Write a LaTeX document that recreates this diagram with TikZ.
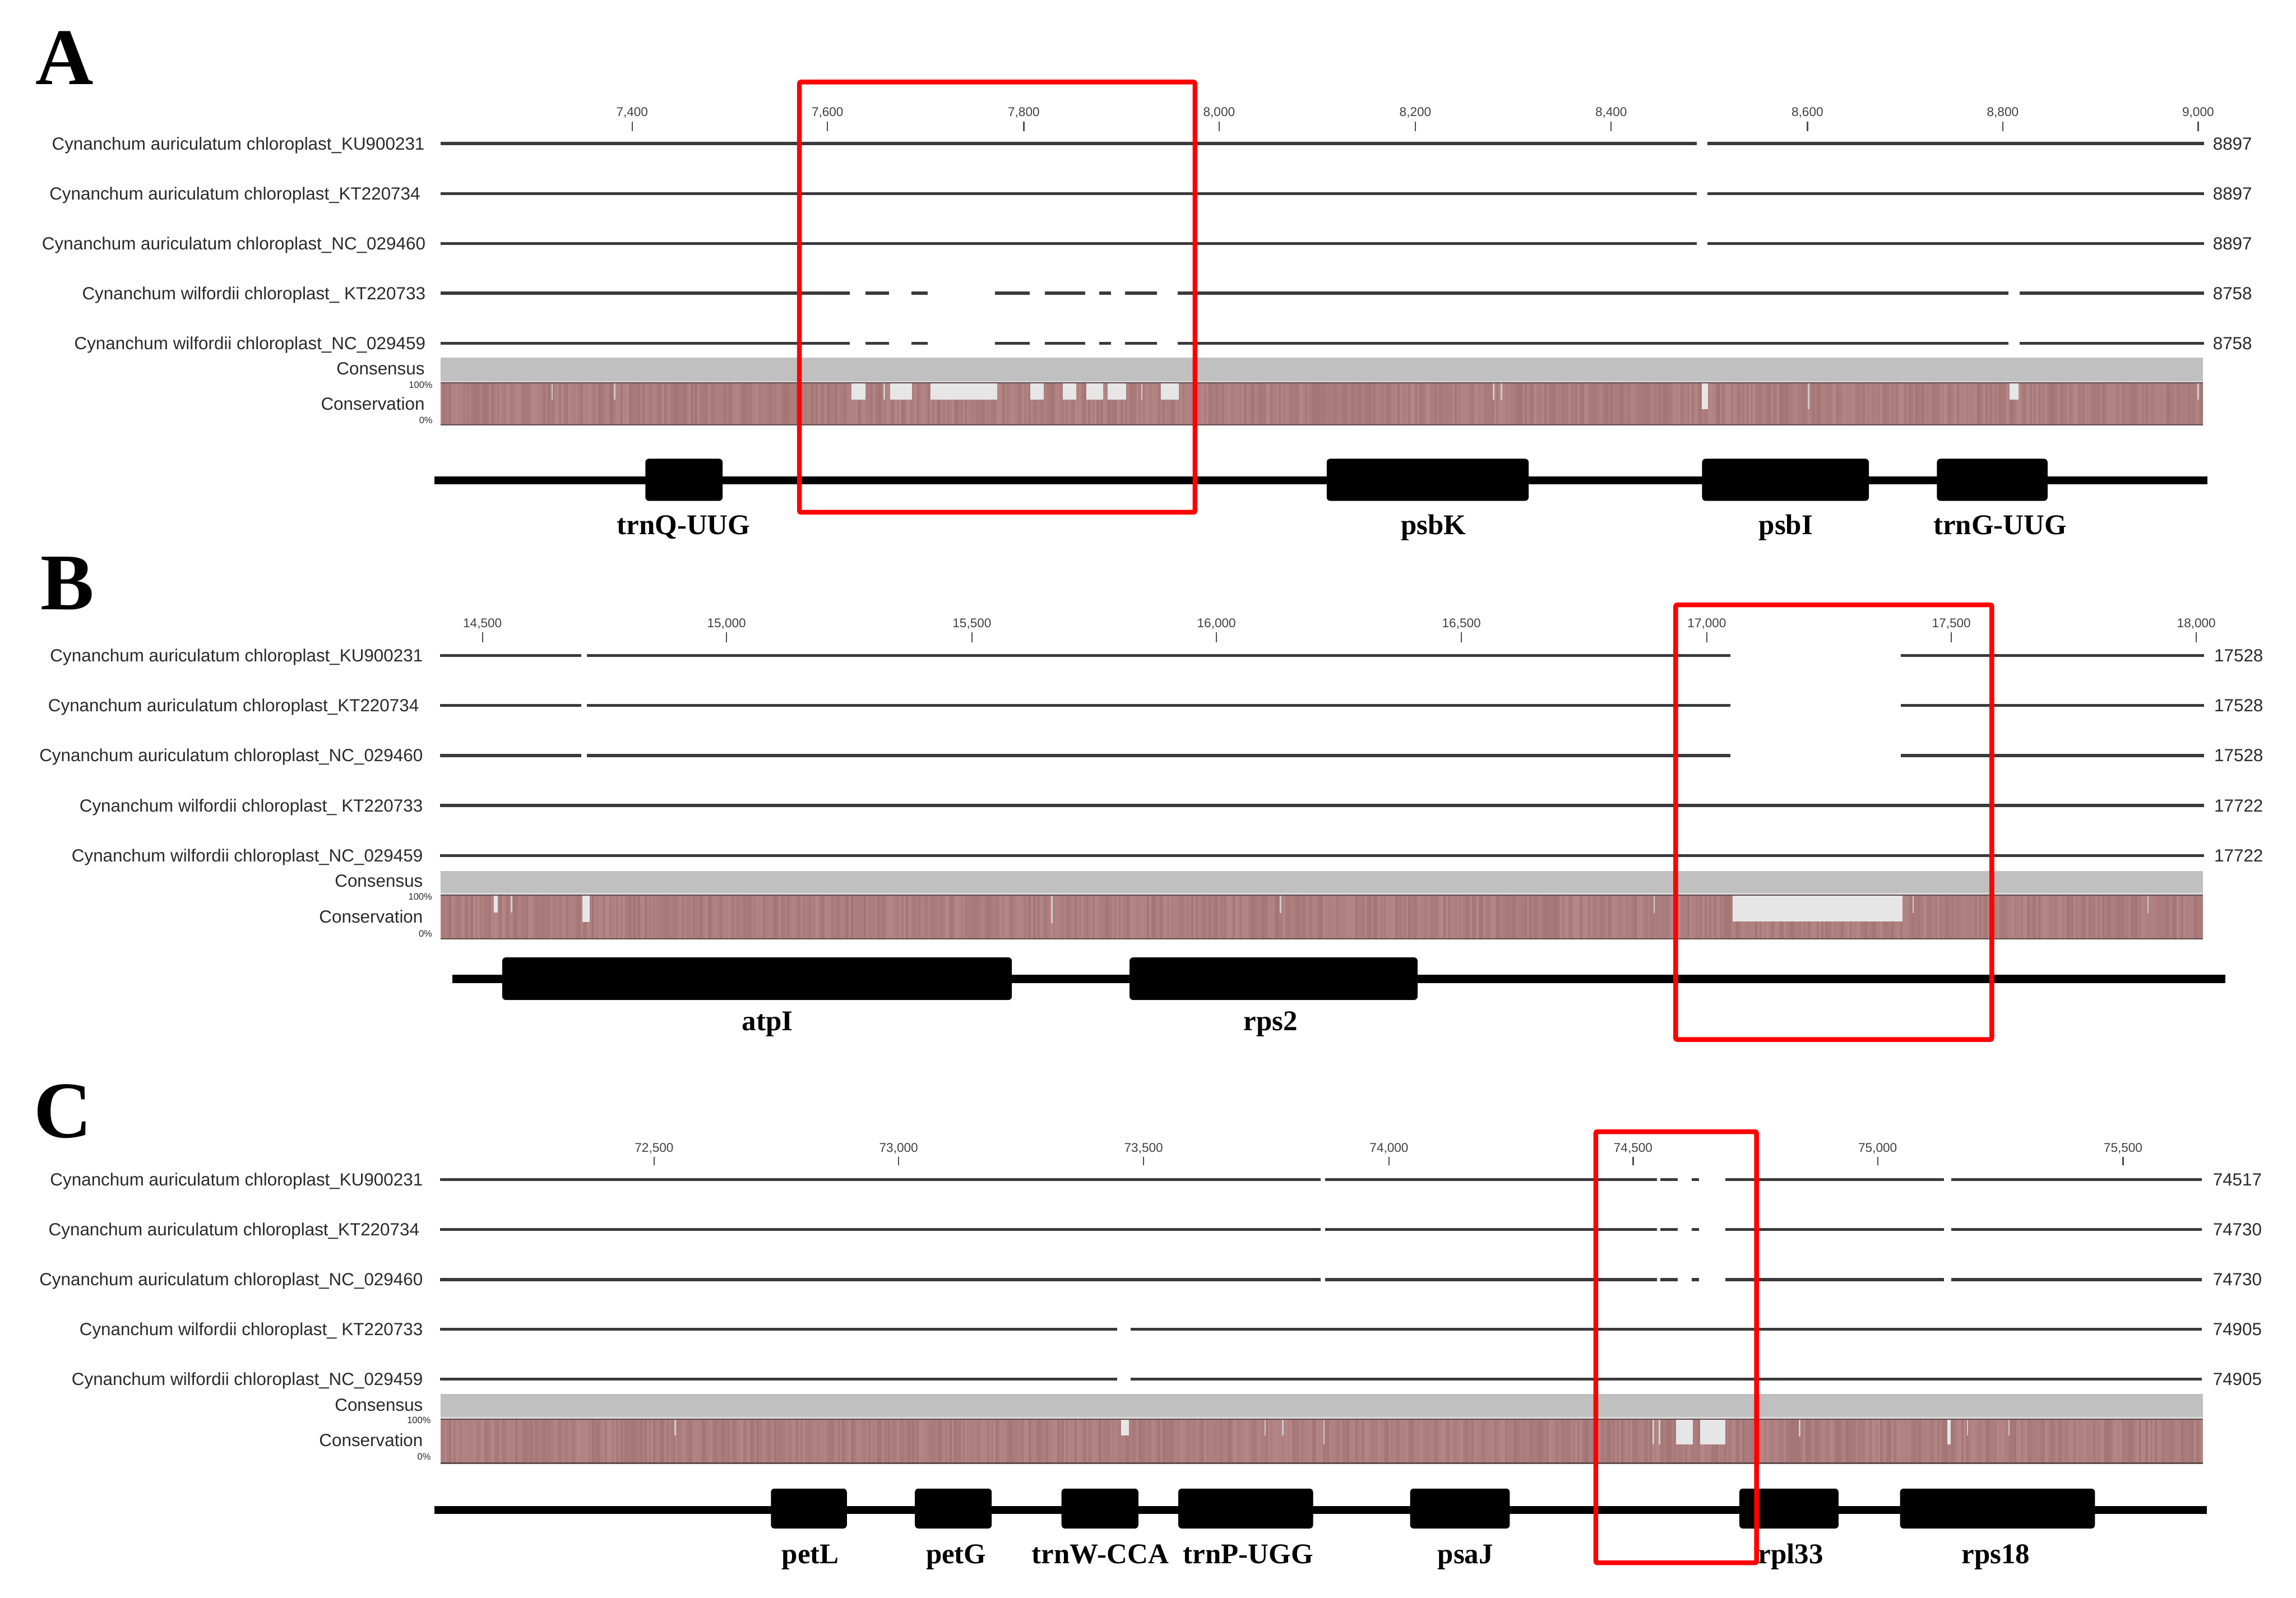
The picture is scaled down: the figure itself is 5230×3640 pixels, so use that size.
\documentclass[tikz,border=0pt]{standalone}
\usepackage{fontspec}
\setmainfont{Liberation Serif}
\newfontfamily\arialf{Liberation Sans}
\definecolor{seqc}{HTML}{3A3A3A}
\definecolor{consc}{HTML}{C0C0C0}
\definecolor{consedge}{HTML}{DCDCDC}
\definecolor{mauA}{HTML}{B68787}
\definecolor{mauB}{HTML}{996A6A}
\definecolor{mauedge}{HTML}{5E4C4C}
\definecolor{gapbox}{HTML}{E6E6E6}
\definecolor{gapline}{HTML}{CDCDCD}
\definecolor{redc}{HTML}{FF0000}
\definecolor{txtc}{HTML}{2A2A2A}

\newcommand{\consbase}[4]{%
  \fill[consc] (1003,#1) rectangle (5018,#2);
  \fill[consedge] (1003,#2) rectangle (5018,#3);
  \fill[mauB!50!mauA] (1003,#3) rectangle (5018,#4);
  \foreach \k in {0,...,802} {
    \pgfmathtruncatemacro{\rr}{35+65*rnd}
    \fill[mauA!\rr!mauB] (1003+5*\k,#3) rectangle (1008.4+5*\k,#4);
  }
}
\newcommand{\consedges}[2]{%
  \draw[mauedge, line width=0.9pt] (1003,#1) -- (5018,#1);
  \draw[mauedge, line width=0.9pt] (1003,#2) -- (5018,#2);
}

\begin{document}
\begin{tikzpicture}[x=0.01cm,y=-0.01cm,
  seqline/.style={draw=seqc, line width=1.99pt, line cap=butt},
  trackline/.style={draw=black, line width=5.1pt, line cap=butt},
  genebox/.style={fill=black, rounded corners=2.3pt},
  redframe/.style={draw=redc, line width=3.1pt, rounded corners=1pt},
  tickmark/.style={draw=black!70, line width=0.85pt},
  namelbl/.style={font={\arialf\fontsize{11.4}{13}\selectfont}, text=txtc, anchor=base east, inner sep=0pt},
  numlbl/.style={font={\arialf\fontsize{11.4}{13}\selectfont}, text=txtc, anchor=base west, inner sep=0pt},
  ticklbl/.style={font={\arialf\fontsize{8.2}{9}\selectfont}, text=black!75, anchor=base, inner sep=0pt},
  pctlbl/.style={font={\arialf\fontsize{6}{7}\selectfont}, text=txtc, anchor=base east, inner sep=0pt},
  genelbl/.style={font={\bfseries\fontsize{18.5}{20}\selectfont}, anchor=base, inner sep=0pt},
  panellbl/.style={font={\bfseries\fontsize{52}{60}\selectfont}, anchor=base west, inner sep=0pt}
]
\useasboundingbox (0,0) rectangle (5230,3640);
\fill[white] (0,0) rectangle (5230,3640);
\pgfmathsetseed{7}

%================ PANEL A ================
\node[panellbl] (pA) at (80,192) {A};
\foreach \x/\t [count=\i] in {1440/7{,}400,1885/7{,}600,2332/7{,}800,2777/8{,}000,3224/8{,}200,3670/8{,}400,4117/8{,}600,4562/8{,}800,5007/9{,}000} {
  \draw[tickmark] (\x,277) -- (\x,299);
  \node[ticklbl] (tkA\i) at (\x,265) {\t};
}
\foreach \y/\t/\xr/\n [count=\i] in {
  327/{Cynanchum auriculatum chloroplast\_KU900231}/968/8897,
  441/{Cynanchum auriculatum chloroplast\_KT220734}/958/8897,
  555/{Cynanchum auriculatum chloroplast\_NC\_029460}/970/8897,
  668/{Cynanchum wilfordii chloroplast\_ KT220733}/970/8758,
  782/{Cynanchum wilfordii chloroplast\_NC\_029459}/970/8758} {
  \node[namelbl] (nmA\i) at (\xr,\y+14) {\t};
  \node[numlbl] (nuA\i) at (5040,\y+14) {\n};
}
\foreach \y in {327,441,555} {
  \foreach \a/\b in {1003/3865,3889/5020} \draw[seqline] (\a,\y) -- (\b,\y);
}
\foreach \y in {668,782} {
  \foreach \a/\b in {1003/1936,1972/2025,2076/2113,2266/2345,2380/2472,2504/2531,2563/2636,2683/4575,4601/5020} \draw[seqline] (\a,\y) -- (\b,\y);
}
\consbase{815}{868}{872}{968}
\foreach \a/\b/\c in {1939/1971/910,2027/2077/910,2119/2272/910,2347/2378/910,2421/2452/910,2474/2513/910,2523/2565/910,2644/2685/910,3877/3890/932,4578/4598/910}
  \fill[gapbox] (\a,872) rectangle (\b,\c);
\foreach \a/\c in {1258/910,1400/910,2014/910,2601/910,3402/910,3420/910,4120/932,5007/910}
  \draw[gapline, line width=0.9pt] (\a,872) -- (\a,\c);
\consedges{872}{968}
\node[namelbl] (csA) at (968,853) {Consensus};
\node[namelbl] (cvA) at (968,934) {Conservation};
\node[pctlbl] (hiA) at (986,884) {100\%};
\node[pctlbl] (loA) at (986,965) {0\%};
\draw[trackline] (989,1094) -- (5028,1094);
\foreach \a/\b in {1470/1646,3022/3482,3877/4257,4412/4664}
  \fill[genebox] (\a,1045) rectangle (\b,1141);
\node[genelbl] (gA1) at (1557,1218) {trnQ-UUG};
\node[genelbl] (gA2) at (3265,1218) {psbK};
\node[genelbl] (gA3) at (4068,1218) {psbI};
\node[genelbl] (gA4) at (4556,1218) {trnG-UUG};
\draw[redframe] (1821,187) rectangle (2722,1167);

%================ PANEL B ================
\node[panellbl] (pB) at (92,1388) {B};
\foreach \x/\t [count=\i] in {1099/14{,}500,1655/15{,}000,2214/15{,}500,2771/16{,}000,3329/16{,}500,3888/17{,}000,4445/17{,}500,5003/18{,}000} {
  \draw[tickmark] (\x,1440) -- (\x,1463);
  \node[ticklbl] (tkB\i) at (\x,1430) {\t};
}
\foreach \y/\t/\xr/\n [count=\i] in {
  1493/{Cynanchum auriculatum chloroplast\_KU900231}/964/17528,
  1607/{Cynanchum auriculatum chloroplast\_KT220734}/955/17528,
  1721/{Cynanchum auriculatum chloroplast\_NC\_029460}/964/17528,
  1835/{Cynanchum wilfordii chloroplast\_ KT220733}/964/17722,
  1949/{Cynanchum wilfordii chloroplast\_NC\_029459}/964/17722} {
  \node[namelbl] (nmB\i) at (\xr,\y+14) {\t};
  \node[numlbl] (nuB\i) at (5043,\y+14) {\n};
}
\foreach \y in {1493,1607,1721} {
  \foreach \a/\b in {1002/1324,1337/3941,4330/5020} \draw[seqline] (\a,\y) -- (\b,\y);
}
\foreach \y in {1835,1949} \draw[seqline] (1002,\y) -- (5020,\y);
\consbase{1984}{2034}{2039}{2139}
\foreach \a/\b/\c in {1125/1134/2079,1326/1343/2100,3947/4333/2099}
  \fill[gapbox] (\a,2039) rectangle (\b,\c);
\foreach \a/\c in {1165/2079,2396/2103,2917/2080,3768/2080,4358/2080,4893/2080}
  \draw[gapline, line width=0.9pt] (\a,2039) -- (\a,\c);
\consedges{2039}{2139}
\node[namelbl] (csB) at (964,2020) {Consensus};
\node[namelbl] (cvB) at (964,2102) {Conservation};
\node[pctlbl] (hiB) at (985,2050) {100\%};
\node[pctlbl] (loB) at (985,2134) {0\%};
\draw[trackline] (1031,2230) -- (5069,2230);
\foreach \a/\b in {1144/2305,2573/3229}
  \fill[genebox] (\a,2181) rectangle (\b,2278);
\node[genelbl] (gB1) at (1748,2348) {atpI};
\node[genelbl] (gB2) at (2894,2348) {rps2};
\draw[redframe] (3817,1378) rectangle (4537,2368);

%================ PANEL C ================
\node[panellbl] (pC) at (77,2591) {C};
\foreach \x/\t [count=\i] in {1490/72{,}500,2047/73{,}000,2605/73{,}500,3164/74{,}000,3720/74{,}500,4277/75{,}000,4836/75{,}500} {
  \draw[tickmark] (\x,2636) -- (\x,2655);
  \node[ticklbl] (tkC\i) at (\x,2624) {\t};
}
\foreach \y/\t/\xr/\n [count=\i] in {
  2687/{Cynanchum auriculatum chloroplast\_KU900231}/964/74517,
  2801/{Cynanchum auriculatum chloroplast\_KT220734}/956/74730,
  2915/{Cynanchum auriculatum chloroplast\_NC\_029460}/964/74730,
  3028/{Cynanchum wilfordii chloroplast\_ KT220733}/964/74905,
  3142/{Cynanchum wilfordii chloroplast\_NC\_029459}/964/74905} {
  \node[namelbl] (nmC\i) at (\xr,\y+14) {\t};
  \node[numlbl] (nuC\i) at (5040,\y+14) {\n};
}
\foreach \y in {2687,2801,2915} {
  \foreach \a/\b in {1002/3008,3019/3774,3782/3822,3854/3870,3930/4428,4445/5015} \draw[seqline] (\a,\y) -- (\b,\y);
}
\foreach \y in {3028,3142} {
  \foreach \a/\b in {1002/2545,2575/5015} \draw[seqline] (\a,\y) -- (\b,\y);
}
\consbase{3176}{3228}{3233}{3333}
\foreach \a/\b/\c in {2554/2571/3270,3818/3856/3290,3873/3930/3290,4436/4444/3291}
  \fill[gapbox] (\a,3233) rectangle (\b,\c);
\foreach \a/\c in {1538/3270,2882/3270,2922/3270,3016/3291,3766/3290,3780/3290,4099/3272,4482/3270,4576/3270}
  \draw[gapline, line width=0.9pt] (\a,3233) -- (\a,\c);
\consedges{3233}{3333}
\node[namelbl] (csC) at (964,3215) {Consensus};
\node[namelbl] (cvC) at (964,3295) {Conservation};
\node[pctlbl] (hiC) at (982,3243) {100\%};
\node[pctlbl] (loC) at (982,3326) {0\%};
\draw[trackline] (990,3440) -- (5027,3440);
\foreach \a/\b in {1756/1929,2084/2259,2418/2593,2684/2991,3212/3439,3962/4188,4328/4772}
  \fill[genebox] (\a,3391) rectangle (\b,3482);
\node[genelbl] (gC1) at (1846,3562) {petL};
\node[genelbl] (gC2) at (2178,3562) {petG};
\node[genelbl] (gC3) at (2506,3562) {trnW-CCA};
\node[genelbl] (gC4) at (2843,3562) {trnP-UGG};
\node[genelbl] (gC5) at (3338,3562) {psaJ};
\node[genelbl] (gC6) at (4079,3562) {rpl33};
\node[genelbl] (gC7) at (4546,3562) {rps18};
\draw[redframe] (3635,2578) rectangle (4001,3560);
\end{tikzpicture}
\end{document}
